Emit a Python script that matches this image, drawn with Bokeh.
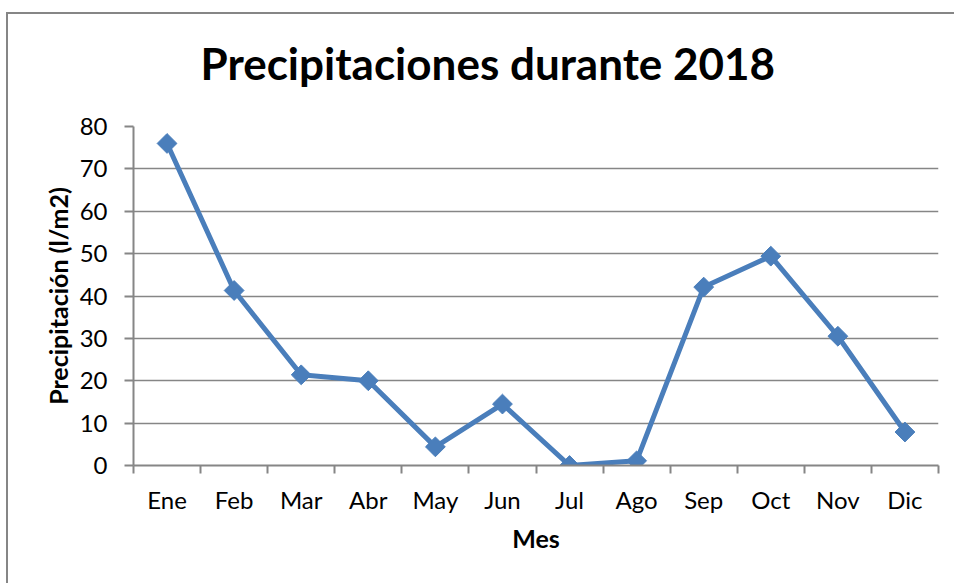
import math
from bokeh.plotting import figure
from bokeh.models import Range1d, FixedTicker, ColumnDataSource
from bokeh.embed import file_html
from bokeh.resources import INLINE

months = ["Ene", "Feb", "Mar", "Abr", "May", "Jun", "Jul", "Ago", "Sep", "Oct", "Nov", "Dic"]
precip = [76.0, 41.3, 21.4, 20.0, 4.4, 14.5, 0.0, 1.1, 42.1, 49.4, 30.5, 7.9]
y_ticks = [0, 10, 20, 30, 40, 50, 60, 70, 80]

FONT = "Lato"
GRAY = "#868686"
BLUE = "#4A7EBB"

xs = [i + 0.5 for i in range(len(months))]
src = ColumnDataSource(data=dict(x=xs, y=precip, m=months))

p = figure(width=954, height=583, output_backend="svg", toolbar_location=None,
           x_range=Range1d(0, len(months)), y_range=Range1d(0, 80),
           min_border_left=133, min_border_right=16, min_border_top=125, min_border_bottom=118)
# chart-area frame: gray line 2px wide at 6px from the left and 12px from the top
p.styles = {"overflow": "hidden",
            "box-shadow": "inset 6px 12px 0 0 #ffffff, inset 8px 14px 0 0 #868686"}

p.title.text = "Precipitaciones durante 2018"
p.title.text_font = FONT
p.title.text_font_size = "44px"
p.title.text_font_style = "bold"
p.title.align = "left"
p.title.vertical_align = "top"
p.title.text_color = "black"
p.title.offset = 67
p.title.standoff = 72

p.outline_line_color = None
p.background_fill_color = "white"
p.border_fill_color = None

p.line("x", "y", source=src, line_color=BLUE, line_width=5)
p.scatter("x", "y", source=src, marker="square", angle=math.pi / 4, size=14,
          fill_color=BLUE, line_color=BLUE)

# x axis
xa = p.xaxis[0]
xa.ticker = FixedTicker(ticks=xs, minor_ticks=list(range(len(months) + 1)))
xa.major_label_overrides = {x: m for x, m in zip(xs, months)}
xa.major_tick_out = 0
xa.major_tick_in = 0
xa.minor_tick_out = 8
xa.minor_tick_in = 0
xa.minor_tick_line_color = GRAY
xa.minor_tick_line_width = 2
xa.axis_line_color = GRAY
xa.axis_line_width = 2
xa.major_label_text_font = FONT
xa.major_label_text_font_size = "24px"
xa.major_label_text_color = "black"
xa.major_label_standoff = 11
xa.axis_label = "Mes"
xa.axis_label_text_font = FONT
xa.axis_label_text_font_size = "25px"
xa.axis_label_text_font_style = "bold"
xa.axis_label_text_color = "black"
xa.axis_label_standoff = 6

# y axis
ya = p.yaxis[0]
ya.ticker = FixedTicker(ticks=y_ticks)
ya.major_tick_out = 9
ya.major_tick_in = 0
ya.major_tick_line_color = GRAY
ya.major_tick_line_width = 2
ya.minor_tick_line_color = None
ya.axis_line_color = GRAY
ya.axis_line_width = 2
ya.major_label_text_font = FONT
ya.major_label_text_font_size = "24px"
ya.major_label_text_color = "black"
ya.major_label_standoff = 17
ya.axis_label = "Precipitación (l/m2)"
ya.axis_label_text_font = FONT
ya.axis_label_text_font_size = "25px"
ya.axis_label_text_font_style = "bold"
ya.axis_label_text_color = "black"
ya.axis_label_standoff = 4

p.xgrid.grid_line_color = None
p.ygrid.grid_line_color = GRAY
p.ygrid.grid_line_width = 1.5

open("out.html", "w").write(file_html(p, INLINE))
